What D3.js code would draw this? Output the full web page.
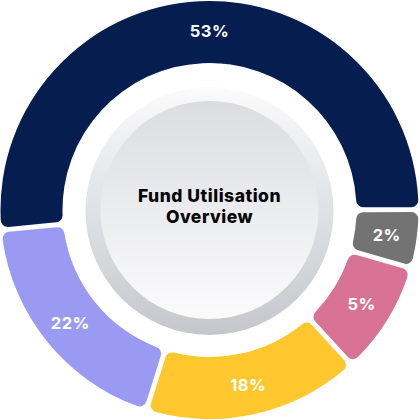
<!DOCTYPE html>
<html>
<head>
<meta charset="utf-8">
<script src="https://cdn.jsdelivr.net/npm/d3@7"></script>
<style>
  html, body { margin: 0; padding: 0; background: #ffffff; }
  svg { display: block; }
</style>
</head>
<body>
<svg id="chart" width="420" height="420"></svg>
<script>
// ---- data ----
const categories = ["Segment A", "Segment B", "Segment C", "Segment D", "Segment E"];
const percentValues = [53, 2, 5, 18, 22];            // printed labels
const drawnShares = [51.5, 4.5, 8.7, 16.7, 18.6];    // share of the ring each arc covers in the picture
const colors = ["#061d4f", "#737373", "#d97396", "#fec72e", "#9b9af2"];
const titleLines = ["Fund Utilisation", "Overview"];

const data = categories.map((c, i) => ({
  category: c, value: percentValues[i], share: drawnShares[i], color: colors[i]
}));

const svg = d3.select("#chart");
const cx = 209.5, cy = 210;
const outerR = 209, innerR = 147;

const defs = svg.append("defs");
const g1 = defs.append("linearGradient").attr("id", "outerGrad")
  .attr("x1", 0).attr("y1", 0).attr("x2", 0).attr("y2", 1);
g1.append("stop").attr("offset", "0%").attr("stop-color", "#fbfbfc");
g1.append("stop").attr("offset", "100%").attr("stop-color", "#c4c7cc");
const g2 = defs.append("linearGradient").attr("id", "innerGrad")
  .attr("x1", 0).attr("y1", 0).attr("x2", 0).attr("y2", 1);
g2.append("stop").attr("offset", "0%").attr("stop-color", "#dcdde1");
g2.append("stop").attr("offset", "100%").attr("stop-color", "#fbfbfc");

const g = svg.append("g").attr("transform", `translate(${cx},${cy})`);

const startA = -95.5 * Math.PI / 180;
const pie = d3.pie().sort(null).value(d => d.share)
  .startAngle(startA).endAngle(startA + 2 * Math.PI);
const arc = d3.arc().innerRadius(innerR).outerRadius(outerR)
  .cornerRadius(7).padAngle(0.026).padRadius(190);
const labelArc = d3.arc().innerRadius(179).outerRadius(179);

const arcs = pie(data);
g.selectAll("path.slice").data(arcs).join("path")
  .attr("class", "slice")
  .attr("d", arc)
  .attr("fill", d => d.data.color);

g.selectAll("text.pct").data(arcs).join("text")
  .attr("class", "pct")
  .attr("transform", d => {
    const [x, y] = labelArc.centroid(d);
    return d.index === 0 ? `translate(0,${-Math.hypot(x, y)})` : `translate(${x},${y})`;
  })
  .attr("text-anchor", "middle")
  .attr("dominant-baseline", "central")
  .attr("font-family", "Inter, 'Open Sans', sans-serif")
  .attr("font-weight", 700)
  .attr("font-size", 16.5)
  .attr("letter-spacing", 0.5)
  .attr("fill", "#ffffff")
  .text(d => d.data.value + "%");

// center disc
g.append("circle").attr("cx", 0).attr("cy", 1).attr("r", 124).attr("fill", "url(#outerGrad)");
g.append("circle").attr("cx", 0).attr("cy", 0).attr("r", 109).attr("fill", "url(#innerGrad)");

const title = g.append("text")
  .attr("text-anchor", "middle")
  .attr("font-family", "Inter, 'Open Sans', sans-serif")
  .attr("font-weight", 800)
  .attr("font-size", 17.5)
  .attr("letter-spacing", 0.5)
  .attr("fill", "#050505");
title.selectAll("tspan").data(titleLines).join("tspan")
  .attr("x", 0)
  .attr("y", (d, i) => -8 + i * 21)
  .text(d => d);
</script>
</body>
</html>
